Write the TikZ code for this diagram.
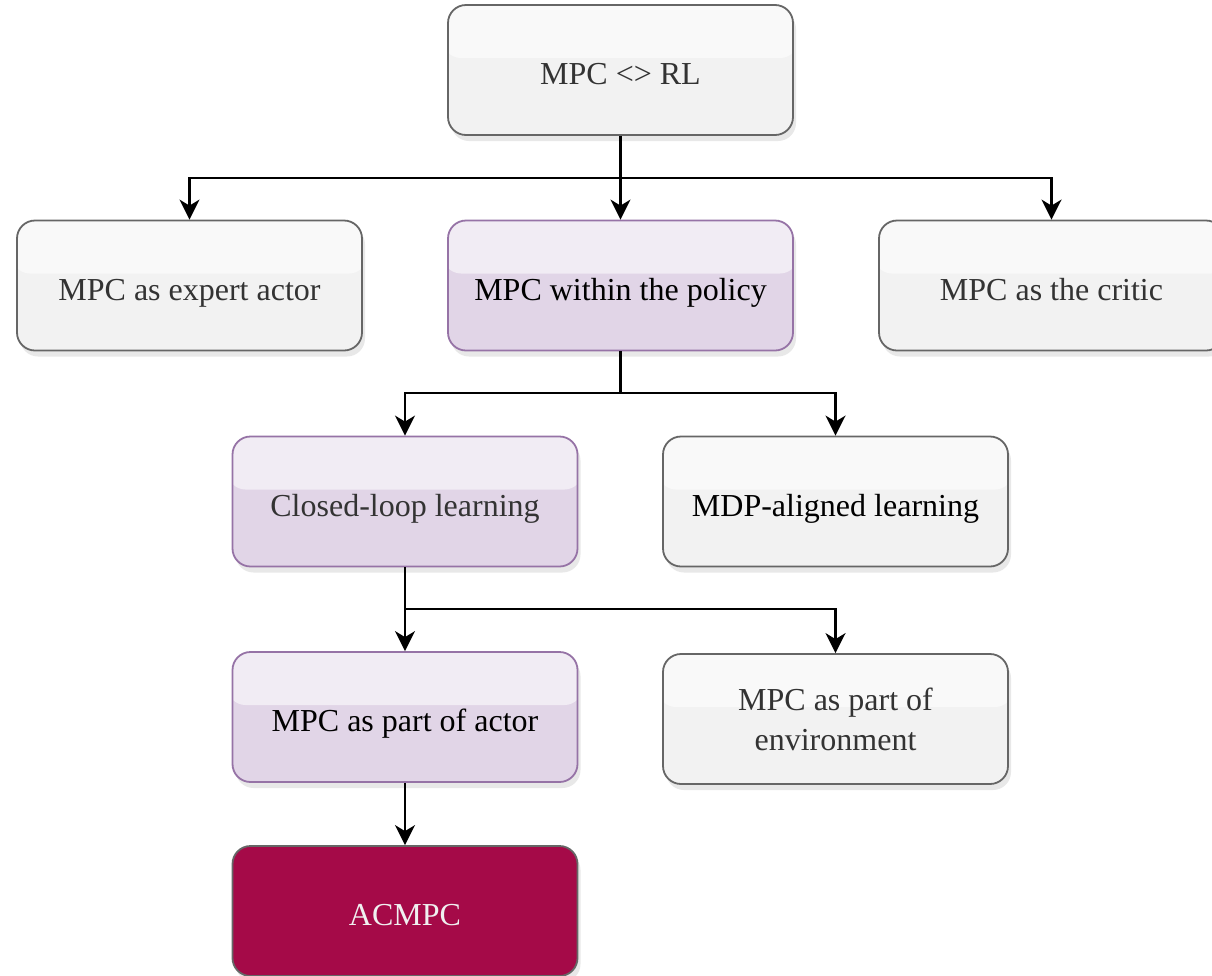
\documentclass[tikz,border=0pt]{standalone}
\usepackage{fontspec}
\setmainfont{Liberation Serif}
\usetikzlibrary{arrows.meta,shadows}
\definecolor{boxgrey}{HTML}{F2F2F2}
\definecolor{edgegrey}{HTML}{666666}
\definecolor{boxpurple}{HTML}{E1D5E7}
\definecolor{edgepurple}{HTML}{9673A6}
\definecolor{crimsonbox}{HTML}{A50A48}
\definecolor{txtgrey}{HTML}{333333}
\tikzset{
  base/.style={rectangle, rounded corners=18pt, minimum width=345pt, minimum height=130pt,
    line width=1.8pt, align=center, font=\fontsize{32}{40}\selectfont,
    text height=31pt, text depth=2pt,
    drop shadow={opacity=0.18, shadow xshift=3pt, shadow yshift=-6pt}},
  glass/.style={path picture={\fill[white, opacity=0.55] ([xshift=-5pt,yshift=5pt]path picture bounding box.north west) rectangle ([xshift=5pt,yshift=-53pt]path picture bounding box.north east);}},
  greybox/.style={base, glass, fill=boxgrey, draw=edgegrey, text=txtgrey},
  purplebox/.style={base, glass, fill=boxpurple, draw=edgepurple},
  redbox/.style={base, fill=crimsonbox, draw=edgegrey, text=white!94!black},
  arr/.style={line width=2.3pt, black, -{Stealth[length=20pt,width=20pt,inset=6pt]}},
  ln/.style={line width=2.3pt, black}
}
\begin{document}
\begin{tikzpicture}[x=1pt,y=-1pt]
\useasboundingbox (0,0) rectangle (1212,975);
\fill[white] (0,0) rectangle (1212,975);
% nodes
\node[greybox] (top) at (620.5,70) {MPC <> RL};
\node[greybox] (expert) at (189.5,285.5) {MPC as expert actor};
\node[purplebox, text=black] (within) at (620.5,285.5) {MPC within the policy};
\node[greybox] (critic) at (1051.5,285.5) {MPC as the critic};
\node[purplebox, text=txtgrey] (closed) at (405,501.5) {Closed-loop learning};
\node[greybox, text=black] (mdp) at (835.5,501.5) {MDP-aligned learning};
\node[purplebox, text=black] (actor) at (405,717) {MPC as part of actor};
\node[greybox, text height=, text depth=] (env) at (835.5,719) {MPC as part of\\environment};
\node[redbox] (acmpc) at (405,911) {ACMPC};
% junctions
\coordinate (j1) at (620.5,178);
\coordinate (j2) at (620.5,393);
\coordinate (j3) at (405,609);
% connectors
\draw[arr] (top.south) -- (within.north);
\draw[arr] (j1) -| (expert.north);
\draw[arr] (j1) -| (critic.north);
\draw[ln] (within.south) -- (j2);
\draw[arr] (j2) -| (closed.north);
\draw[arr] (j2) -| (mdp.north);
\draw[arr] (closed.south) -- (actor.north);
\draw[arr] (j3) -| (env.north);
\draw[arr] (actor.south) -- (acmpc.north);
\end{tikzpicture}
\end{document}
